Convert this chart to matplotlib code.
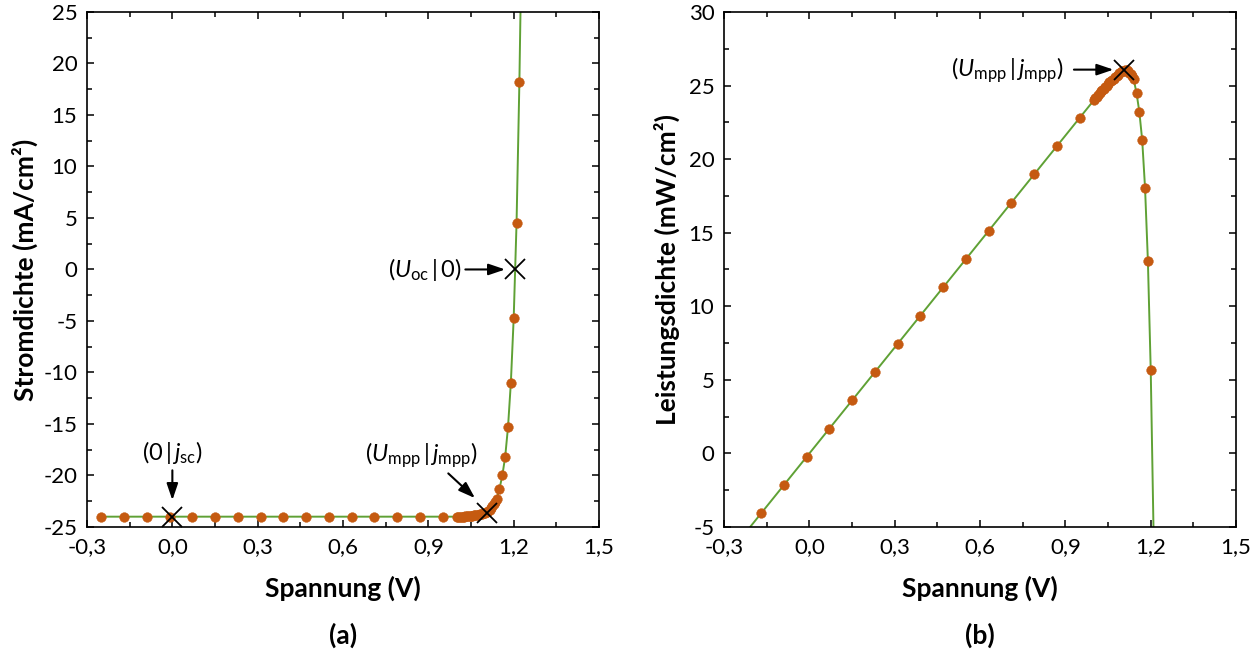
import numpy as np
import matplotlib
matplotlib.use("Agg")
import matplotlib.pyplot as plt
from matplotlib.ticker import MultipleLocator, FuncFormatter

plt.rcParams['font.family'] = ['Lato', 'DejaVu Sans']
plt.rcParams['mathtext.fontset'] = 'custom'
plt.rcParams['mathtext.rm'] = 'Lato'
plt.rcParams['mathtext.it'] = 'Lato:italic'
plt.rcParams['mathtext.bf'] = 'Lato:bold'
plt.rcParams['axes.unicode_minus'] = False

# Messwerte: Spannung (V) und Stromdichte (mA/cm²)
U = [-0.25, -0.17, -0.09, -0.01, 0.07, 0.15, 0.23, 0.31, 0.39, 0.47, 0.55, 0.63,
     0.71, 0.79, 0.87, 0.95,
     1.000, 1.005, 1.010, 1.015, 1.020, 1.025, 1.030, 1.035, 1.040, 1.045, 1.050,
     1.055, 1.060, 1.065, 1.070, 1.075, 1.080, 1.085, 1.090, 1.095, 1.100, 1.105,
     1.110, 1.115, 1.120, 1.125, 1.130, 1.135,
     1.14, 1.15, 1.16, 1.17, 1.18, 1.19, 1.20, 1.21, 1.22, 1.23]
j = [-24.0, -24.0, -24.0, -24.0, -24.0, -24.0, -24.0, -24.0, -24.0, -24.0, -24.0, -24.0,
     -24.0, -24.0, -24.0, -24.0,
     -24.0, -24.0, -24.0, -24.0, -24.0, -24.0, -23.95, -23.95, -23.95, -23.9, -23.9,
     -23.9, -23.85, -23.85, -23.8, -23.8, -23.75, -23.7, -23.7, -23.65, -23.6, -23.55,
     -23.45, -23.35, -23.2, -23.0, -22.8, -22.6,
     -22.3, -21.3, -20.0, -18.2, -15.3, -11.0, -4.7, 4.5, 18.2, 36.0]
# Leistungsdichte (mW/cm²)
P = [-6.00, -4.08, -2.16, -0.24, 1.68, 3.60, 5.52, 7.44, 9.36, 11.28, 13.20, 15.12,
     17.04, 18.96, 20.88, 22.80,
     24.00, 24.12, 24.24, 24.36, 24.48, 24.60, 24.67, 24.79, 24.91, 24.98, 25.10,
     25.21, 25.28, 25.40, 25.47, 25.59, 25.65, 25.71, 25.83, 25.90, 25.96, 26.02,
     26.03, 26.04, 25.98, 25.88, 25.76, 25.65,
     25.42, 24.50, 23.20, 21.29, 18.05, 13.09, 5.64, -5.45, -22.20, -44.28]

# Kennpunkte
U_mpp, j_mpp, P_mpp = 1.105, -23.6, 26.08
U_oc = 1.205
j_sc = -24.0

orange = '#C55A11'
gruen = '#5FA135'

def komma(v, pos):
    return ('%.1f' % v).replace('.', ',')

fig = plt.figure(figsize=(12.54, 6.53), dpi=100)
ax1 = fig.add_axes([0.0694, 0.193, 0.4083, 0.7887])
ax2 = fig.add_axes([0.5774, 0.193, 0.4083, 0.7887])

pfeil = dict(arrowstyle='-|>,head_length=0.5,head_width=0.17', color='k', lw=1.5,
             mutation_scale=20, shrinkA=0, shrinkB=0)
fs_ann = 17

# (a) Kennlinie
ax1.plot(U, j, '-', color=gruen, lw=1.4, zorder=2)
ax1.plot(U, j, 'o', color=orange, ms=7, mec=orange, mew=0.3, zorder=3)
ax1.plot([0, U_mpp, U_oc], [j_sc, j_mpp, 0], 'x', color='k', ms=14, mew=1.3, zorder=4)
ax1.set_xlim(-0.3, 1.5)
ax1.set_ylim(-25, 25)
ax1.yaxis.set_major_locator(MultipleLocator(5))
ax1.yaxis.set_minor_locator(MultipleLocator(2.5))
ax1.set_ylabel('Stromdichte (mA/cm²)', fontsize=19, fontweight='bold', labelpad=4)
ax1.annotate('', xy=(0, -22.4), xytext=(0, -19.5), arrowprops=pfeil)
ax1.text(0, -17.8, r'$(0\,|\,\mathit{j}_{\mathrm{sc}})$', fontsize=fs_ann, ha='center', va='center')
ax1.annotate('', xy=(1.064, -22.2), xytext=(0.97, -19.8), arrowprops=pfeil)
ax1.text(0.874, -18.0, r'$(\mathit{U}_{\mathrm{mpp}}\,|\,\mathit{j}_{\mathrm{mpp}})$',
         fontsize=fs_ann, ha='center', va='center')
ax1.annotate('', xy=(1.17, 0), xytext=(1.03, 0), arrowprops=pfeil)
ax1.text(1.015, 0, r'$(\mathit{U}_{\mathrm{oc}}\,|\,0)$', fontsize=fs_ann, ha='right', va='center')

# (b) Leistung
ax2.plot(U, P, '-', color=gruen, lw=1.4, zorder=2)
ax2.plot(U, P, 'o', color=orange, ms=7, mec=orange, mew=0.3, zorder=3)
ax2.plot([U_mpp], [P_mpp], 'x', color='k', ms=14, mew=1.3, zorder=4)
ax2.set_xlim(-0.3, 1.5)
ax2.set_ylim(-5, 30)
ax2.yaxis.set_major_locator(MultipleLocator(5))
ax2.yaxis.set_minor_locator(MultipleLocator(2.5))
ax2.set_ylabel('Leistungsdichte (mW/cm²)', fontsize=19, fontweight='bold', labelpad=6)
ax2.annotate('', xy=(1.069, P_mpp), xytext=(0.93, P_mpp), arrowprops=pfeil)
ax2.text(0.695, P_mpp, r'$(\mathit{U}_{\mathrm{mpp}}\,|\,\mathit{j}_{\mathrm{mpp}})$',
         fontsize=fs_ann, ha='center', va='center')

for ax, buchstabe in [(ax1, '(a)'), (ax2, '(b)')]:
    ax.xaxis.set_major_locator(MultipleLocator(0.3))
    ax.xaxis.set_minor_locator(MultipleLocator(0.15))
    ax.xaxis.set_major_formatter(FuncFormatter(komma))
    ax.set_xlabel('Spannung (V)', fontsize=19, fontweight='bold', labelpad=14)
    ax.tick_params(which='both', direction='in', top=True, right=True, labelsize=16, width=1.1)
    ax.tick_params(which='major', length=5, pad=7)
    ax.tick_params(which='minor', length=3.5)
    for s in ax.spines.values():
        s.set_linewidth(1.2)
    ax.text(0.5, -0.21, buchstabe, transform=ax.transAxes, fontsize=19,
            fontweight='bold', ha='center', va='center')

plt.savefig('out.png', dpi=100)
